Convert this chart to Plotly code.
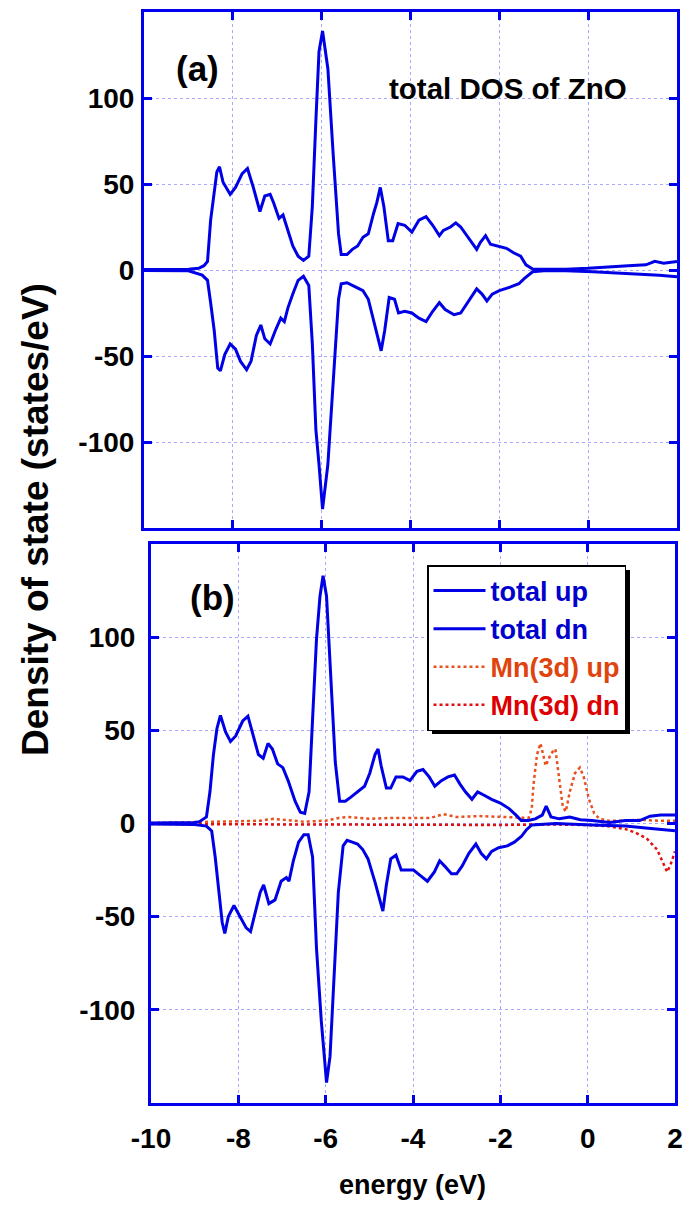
import plotly.graph_objects as go

W, H = 685, 1207

# ---------------- data ----------------
# panel (a): total DOS of ZnO
a_up_x = [-10, -9.5, -9.0, -8.77, -8.65, -8.57, -8.50, -8.42, -8.36, -8.30, -8.22, -8.06, -7.94, -7.79,
          -7.67, -7.55, -7.39, -7.28, -7.16, -7.08, -6.96, -6.87, -6.76, -6.65, -6.53, -6.41, -6.29,
          -6.21, -6.13, -6.06, -5.98, -5.86, -5.74, -5.62, -5.56, -5.43, -5.31, -5.19, -5.07, -4.95,
          -4.83, -4.76, -4.68, -4.60, -4.50, -4.40, -4.28, -4.13, -3.97, -3.81, -3.65, -3.50, -3.35,
          -3.26, -3.10, -2.98, -2.87, -2.71, -2.51, -2.43, -2.31, -2.20, -2.04, -1.84, -1.68, -1.52,
          -1.40, -1.25, -1.0, -0.5, 0.0, 0.5, 0.9, 1.3, 1.5, 1.7, 2.0]
a_up_y = [0.3, 0.3, 0.5, 1, 2.5, 5, 29, 45, 57, 60, 51, 44, 48, 56,
          59, 49, 34, 43, 44, 39, 30, 32, 23, 14, 8, 5.6, 8,
          37, 87, 127, 139, 117, 67, 21, 9, 9, 12, 14, 19, 21,
          33, 39, 48, 37, 17, 17, 27, 26, 22, 29, 31, 26, 20,
          23, 25, 27.4, 25, 19, 12, 16, 20, 15, 14, 12.6, 10, 8,
          3, 0.6, 0.5, 0.5, 1, 2, 2.5, 3, 5, 4, 5]

a_dn_x = [-10, -9.5, -9.0, -8.69, -8.57, -8.50, -8.42, -8.34, -8.28, -8.18, -8.06, -7.94, -7.83, -7.69,
          -7.59, -7.47, -7.37, -7.28, -7.16, -7.04, -6.92, -6.84, -6.76, -6.65, -6.53, -6.41, -6.29,
          -6.21, -6.13, -6.06, -5.98, -5.86, -5.74, -5.62, -5.56, -5.43, -5.23, -5.07, -4.95, -4.83,
          -4.76, -4.66, -4.58, -4.48, -4.36, -4.27, -4.13, -3.97, -3.81, -3.65, -3.50, -3.35, -3.22,
          -3.02, -2.87, -2.67, -2.51, -2.39, -2.28, -2.16, -2.00, -1.76, -1.56, -1.44, -1.25, -1.0,
          -0.5, 0.1, 0.9, 1.3, 1.6, 2.0]
a_dn_y = [-0.3, -0.3, -0.5, -3, -6, -19, -35, -57, -58.6, -49, -43, -46, -53, -58,
          -53, -38, -32, -40, -43, -35, -28, -30, -22, -14, -6, -3.6, -9,
          -43, -93, -113, -139, -113, -63, -17, -8, -7.4, -10, -12, -17, -29,
          -37, -47, -35, -16, -17, -25, -24, -25, -28, -30, -24, -19, -23,
          -26, -25, -17, -11, -14, -18, -14, -12, -10, -8, -5, -1, -0.5,
          -0.5, -1, -2, -2.5, -3, -4]

# panel (b): total DOS and Mn(3d) partial DOS
b_up_x = [-10, -9.5, -9.0, -8.89, -8.73, -8.65, -8.57, -8.49, -8.41, -8.29, -8.18, -8.06, -7.90, -7.78,
          -7.66, -7.54, -7.43, -7.32, -7.22, -7.10, -6.98, -6.86, -6.70, -6.58, -6.48, -6.38, -6.30,
          -6.21, -6.13, -6.06, -5.98, -5.89, -5.78, -5.68, -5.55, -5.43, -5.27, -5.11, -4.99, -4.87,
          -4.80, -4.73, -4.61, -4.51, -4.39, -4.23, -4.07, -3.91, -3.77, -3.63, -3.50, -3.35, -3.20,
          -3.05, -2.92, -2.80, -2.65, -2.52, -2.36, -2.20, -2.00, -1.80, -1.64, -1.52, -1.36, -1.20,
          -1.04, -0.95, -0.84, -0.65, -0.41, -0.17, 0.1, 0.5, 0.87, 1.19, 1.43, 1.67, 2.0]
b_up_y = [0.3, 0.3, 0.5, 1, 3.5, 17, 37, 51, 58, 49, 44, 47, 55, 57.6,
          48, 37, 35, 43, 40, 32, 30, 23, 12, 6, 5.4, 17, 56,
          99, 122, 133, 122, 79, 33, 12, 12, 14, 17, 20, 27, 37,
          40, 31, 19, 19, 25, 25, 23, 28, 29, 25, 20, 23, 25,
          26, 21, 17, 13, 17, 15, 13, 11, 8, 4.5, 1.6, 1.6, 2.5,
          4.5, 9.3, 3.5, 2.5, 3.5, 2, 1.6, 0.6, 1.6, 1.6, 3.9, 4.5, 4.5]

b_dn_x = [-10, -9.5, -9.0, -8.73, -8.61, -8.53, -8.44, -8.37, -8.31, -8.23, -8.10, -7.98, -7.82, -7.72,
          -7.62, -7.50, -7.42, -7.30, -7.16, -7.02, -6.90, -6.84, -6.74, -6.62, -6.50, -6.40, -6.30,
          -6.21, -6.10, -6.05, -5.98, -5.90, -5.81, -5.71, -5.60, -5.51, -5.39, -5.27, -5.15, -5.03,
          -4.87, -4.75, -4.69, -4.61, -4.51, -4.39, -4.27, -4.15, -3.99, -3.83, -3.67, -3.51, -3.39,
          -3.27, -3.12, -3.00, -2.88, -2.72, -2.56, -2.44, -2.32, -2.20, -2.04, -1.84, -1.68, -1.52,
          -1.40, -1.28, -0.73, 0.1, 0.87, 1.27, 1.67, 2.0]
b_dn_y = [-0.3, -0.3, -0.5, -1.4, -4, -18, -37, -53, -59, -50, -44, -49, -56, -58,
          -49, -37, -33, -43, -41, -31, -29, -31, -20, -10, -6, -6, -18,
          -67, -106, -121, -139, -125, -86, -37, -12, -9, -10, -11, -14, -19,
          -31.5, -41, -47, -33, -19, -17, -25, -25, -25, -28, -31, -26, -20,
          -23, -27, -27, -23, -16, -11, -16, -19, -15, -13, -12, -10, -7,
          -3.3, -0.8, 0, -0.8, -1.4, -2.3, -3.3, -3.9]

mn_up_x = [-10, -9.5, -9.0, -8.5, -8.0, -7.5, -7.2, -7.0, -6.5, -6.0, -5.7, -5.5, -5.0, -4.5, -4.0,
           -3.6, -3.3, -3.0, -2.5, -2.0, -1.6, -1.35, -1.28, -1.24, -1.16, -1.08, -0.96, -0.84, -0.74,
           -0.65, -0.57, -0.50, -0.41, -0.29, -0.18, -0.09, 0.03, 0.15, 0.27, 0.47, 0.8, 1.2, 1.6, 2.0]
mn_up_y = [0.3, 0.5, 0.5, 1.0, 1.2, 1.5, 2.5, 2, 1, 1.5, 3, 3.5, 2.5, 3, 3,
           3, 5, 3.5, 4, 3.5, 3, 3, 8, 21, 37, 43, 31, 37.5, 40,
           25, 9, 6.4, 17, 27, 30, 25, 13, 5.4, 2.5, 1.5, 1.5, 2, 1.5, 1.5]

mn_dn_x = [-10, -8, -6, -4, -2, -1, 0, 0.47, 0.87, 1.1, 1.35, 1.59, 1.71, 1.82, 1.9, 2.0]
mn_dn_y = [-0.3, -0.5, -0.7, -0.8, -0.8, -0.5, -0.8, -1.5, -3, -5, -8, -14, -20, -26, -22, -15]

x_ticks = [-10, -8, -6, -4, -2, 0, 2]
x_tick_text = ["-10", "-8", "-6", "-4", "-2", "0", "2"]
y_ticks = [-100, -50, 0, 50, 100]
y_tick_text = ["-100", "-50", "0", "50", "100"]
series_names = ["total up", "total dn", "Mn(3d) up", "Mn(3d) dn"]

# ---------------- styling ----------------
BLUE = "#0000e6"
FRAME = "#0000ee"
ORANGE = "#e8501e"
RED = "#e01010"
FONT = "Liberation Sans"


def px_x(p):
    return p / W


def px_y(p):
    return 1 - p / H


fig = go.Figure()

# panel (a)
fig.add_trace(go.Scatter(x=a_up_x, y=a_up_y, mode="lines", line=dict(color=BLUE, width=3),
                         showlegend=False, xaxis="x", yaxis="y"))
fig.add_trace(go.Scatter(x=a_dn_x, y=a_dn_y, mode="lines", line=dict(color=BLUE, width=3),
                         showlegend=False, xaxis="x", yaxis="y"))

# panel (b)
legend_colors = ["#0000cc", "#0000cc", "#e0440e", "#dd0000"]
fig.add_trace(go.Scatter(x=mn_up_x, y=mn_up_y, mode="lines",
                         line=dict(color=ORANGE, width=2.5, dash="dot"),
                         name=f"<span style='color:{legend_colors[2]}'>{series_names[2]}</span>",
                         legendrank=3, xaxis="x2", yaxis="y2"))
fig.add_trace(go.Scatter(x=mn_dn_x, y=mn_dn_y, mode="lines",
                         line=dict(color=RED, width=2.5, dash="dot"),
                         name=f"<span style='color:{legend_colors[3]}'>{series_names[3]}</span>",
                         legendrank=4, xaxis="x2", yaxis="y2"))
fig.add_trace(go.Scatter(x=b_up_x, y=b_up_y, mode="lines", line=dict(color=BLUE, width=3),
                         name=f"<span style='color:{legend_colors[0]}'>{series_names[0]}</span>",
                         legendrank=1, xaxis="x2", yaxis="y2"))
fig.add_trace(go.Scatter(x=b_dn_x, y=b_dn_y, mode="lines", line=dict(color=BLUE, width=3),
                         name=f"<span style='color:{legend_colors[1]}'>{series_names[1]}</span>",
                         legendrank=2, xaxis="x2", yaxis="y2"))

axis_common = dict(
    showline=True, linecolor=FRAME, linewidth=3, mirror="ticks",
    ticks="inside", ticklen=8, tickwidth=3, tickcolor=FRAME,
    showgrid=True, gridcolor="#a8a8ff", gridwidth=1, griddash="dot",
    zeroline=False, automargin=False,
    tickfont=dict(family=FONT, size=28, color="black", weight="bold"),
)

fig.update_layout(
    width=W, height=H,
    margin=dict(l=0, r=0, t=0, b=0, autoexpand=False),
    paper_bgcolor="white", plot_bgcolor="white",
    xaxis=dict(axis_common, domain=[px_x(144), px_x(677)], range=[-10, 2],
               tickvals=x_ticks, ticktext=x_tick_text, showticklabels=False, anchor="y"),
    yaxis=dict(axis_common, domain=[px_y(528), px_y(12)], range=[-150, 150],
               tickvals=y_ticks, ticktext=y_tick_text, anchor="x", ticklabelstandoff=1),
    xaxis2=dict(axis_common, domain=[px_x(151), px_x(675)], range=[-10, 2],
                tickvals=x_ticks, ticktext=x_tick_text, anchor="y2", ticklabelstandoff=8),
    yaxis2=dict(axis_common, domain=[px_y(1103), px_y(544)], range=[-150, 150],
                tickvals=y_ticks, ticktext=y_tick_text, anchor="x2", ticklabelstandoff=7),
    legend=dict(x=px_x(427), y=px_y(565), xanchor="left", yanchor="top",
                bgcolor="white", bordercolor="black", borderwidth=1.5,
                font=dict(family=FONT, size=27, weight="bold"),
                tracegroupgap=0, itemwidth=52),
    showlegend=True,
)

# legend drop shadow (sits just behind the legend box, offset down-right)
fig.add_shape(type="rect", xref="paper", yref="paper",
              x0=px_x(432), x1=px_x(630), y0=px_y(734), y1=px_y(570),
              fillcolor="black", line=dict(width=0), layer="above")

ann_font = dict(family=FONT, color="black", weight="bold")
center = dict(xref="paper", yref="paper", xanchor="center", yanchor="middle", showarrow=False)
fig.add_annotation(text="(a)", x=px_x(197), y=px_y(68), font=dict(ann_font, size=35), **center)
fig.add_annotation(text="total DOS of ZnO", x=px_x(508), y=px_y(88),
                   font=dict(ann_font, size=29.5), **center)
fig.add_annotation(text="(b)", x=px_x(212), y=px_y(597), font=dict(ann_font, size=35), **center)
fig.add_annotation(text="energy (eV)", x=px_x(413), y=px_y(1185),
                   font=dict(ann_font, size=27), **center)
fig.add_annotation(text="Density of state (states/eV)", x=px_x(35), y=px_y(520), textangle=-90,
                   font=dict(ann_font, size=37), **center)

fig.write_html("out.html")
